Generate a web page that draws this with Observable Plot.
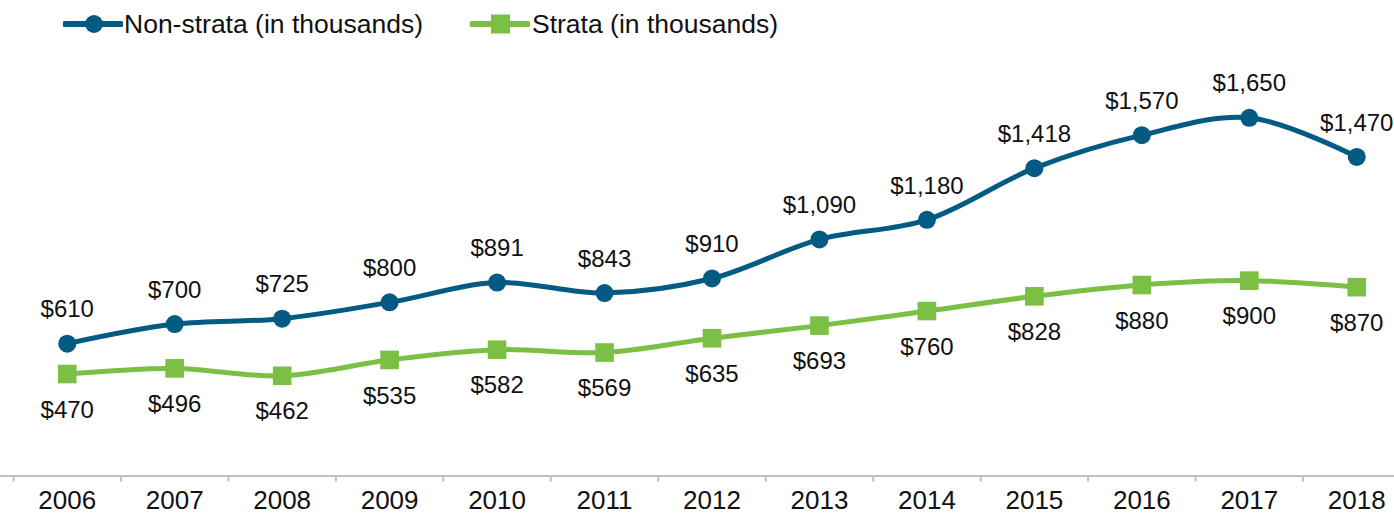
<!DOCTYPE html>
<html><head><meta charset="utf-8">
<script src="https://cdn.jsdelivr.net/npm/d3@7"></script>
<script src="https://cdn.jsdelivr.net/npm/@observablehq/plot@0.6"></script>
<style>
html,body{margin:0;padding:0;background:#fff;overflow:hidden;width:1394px;height:519px}
#legend{position:relative;height:48px;width:1394px;font-family:"Liberation Sans",Arial,sans-serif;font-size:26.5px;color:#111}
.item{position:absolute;top:0;height:48px;display:flex;align-items:center;white-space:nowrap}
#chart svg{display:block}
</style></head><body>
<div id="legend"></div><div id="chart"></div>
<script>
const years = [2006, 2007, 2008, 2009, 2010, 2011, 2012, 2013, 2014, 2015, 2016, 2017, 2018];
const nonStrata = [610, 700, 725, 800, 891, 843, 910, 1090, 1180, 1418, 1570, 1650, 1470];
const strata = [470, 496, 462, 535, 582, 569, 635, 693, 760, 828, 880, 900, 870];
const seriesNames = ["Non-strata (in thousands)", "Strata (in thousands)"];
const colors = ["#035a82", "#7bbf44"];

// Legend
const legend = document.getElementById("legend");
const legendDefs = [
  {name: seriesNames[0], color: colors[0], shape: "circle", swatchLeft: 63, textLeft: 124},
  {name: seriesNames[1], color: colors[1], shape: "square", swatchLeft: 470, textLeft: 532}
];
legendDefs.forEach(d => {
  const sw = document.createElementNS("http://www.w3.org/2000/svg", "svg");
  sw.setAttribute("width", 60); sw.setAttribute("height", 48);
  sw.style.position = "absolute"; sw.style.left = d.swatchLeft + "px"; sw.style.top = "0px";
  const ln = document.createElementNS(sw.namespaceURI, "line");
  ln.setAttribute("x1", 2); ln.setAttribute("x2", 58); ln.setAttribute("y1", 24); ln.setAttribute("y2", 24);
  ln.setAttribute("stroke", d.color); ln.setAttribute("stroke-width", 6); ln.setAttribute("stroke-linecap", "round");
  sw.appendChild(ln);
  let m;
  if (d.shape === "circle") {
    m = document.createElementNS(sw.namespaceURI, "circle");
    m.setAttribute("cx", 31); m.setAttribute("cy", 24); m.setAttribute("r", 9);
  } else {
    m = document.createElementNS(sw.namespaceURI, "rect");
    m.setAttribute("x", 21); m.setAttribute("y", 14.5); m.setAttribute("width", 19); m.setAttribute("height", 19);
  }
  m.setAttribute("fill", d.color);
  sw.appendChild(m);
  legend.appendChild(sw);
  const t = document.createElement("div");
  t.className = "item"; t.style.left = d.textLeft + "px"; t.textContent = d.name;
  legend.appendChild(t);
});

const rowsN = years.map((y, i) => ({year: y, value: nonStrata[i]}));
const rowsS = years.map((y, i) => ({year: y, value: strata[i]}));
const boundaries = years.map(y => y - 0.5).concat([years[years.length - 1] + 0.5]);
const fmt = v => "$" + d3.format(",")(v);

const chart = Plot.plot({
  width: 1394,
  height: 471,
  marginTop: 15,
  marginBottom: 43.4,
  marginLeft: 0,
  marginRight: 0,
  style: {fontFamily: '"Liberation Sans", Arial, sans-serif', color: "#111", background: "#fff", overflow: "visible"},
  x: {domain: [2005.5, 2018.5], range: [13, 1410], label: null},
  y: {domain: [0, 1900], axis: null},
  marks: [
    Plot.ruleY([0], {stroke: "#c0c0c0", strokeWidth: 2}),
    Plot.axisX(boundaries, {tickSize: 6, tickFormat: () => "", stroke: "#c0c0c0", strokeWidth: 2, label: null}),
    Plot.axisX(years, {tickSize: 0, tickPadding: 14, tickFormat: d => String(d), fontSize: 26, fill: "#111", label: null}),
    Plot.line(rowsS, {x: "year", y: "value", stroke: colors[1], strokeWidth: 5, curve: "catmull-rom"}),
    Plot.line(rowsN, {x: "year", y: "value", stroke: colors[0], strokeWidth: 5, curve: "catmull-rom"}),
    Plot.dot(rowsS, {x: "year", y: "value", symbol: "square", r: 10.5, fill: colors[1]}),
    Plot.dot(rowsN, {x: "year", y: "value", r: 9, fill: colors[0]}),
    Plot.text(rowsN, {x: "year", y: "value", text: d => fmt(d.value), dy: -34, fontSize: 24, fill: "#111"}),
    Plot.text(rowsS, {x: "year", y: "value", text: d => fmt(d.value), dy: 36, fontSize: 24, fill: "#111"})
  ]
});
document.getElementById("chart").appendChild(chart);
</script>
</body></html>
